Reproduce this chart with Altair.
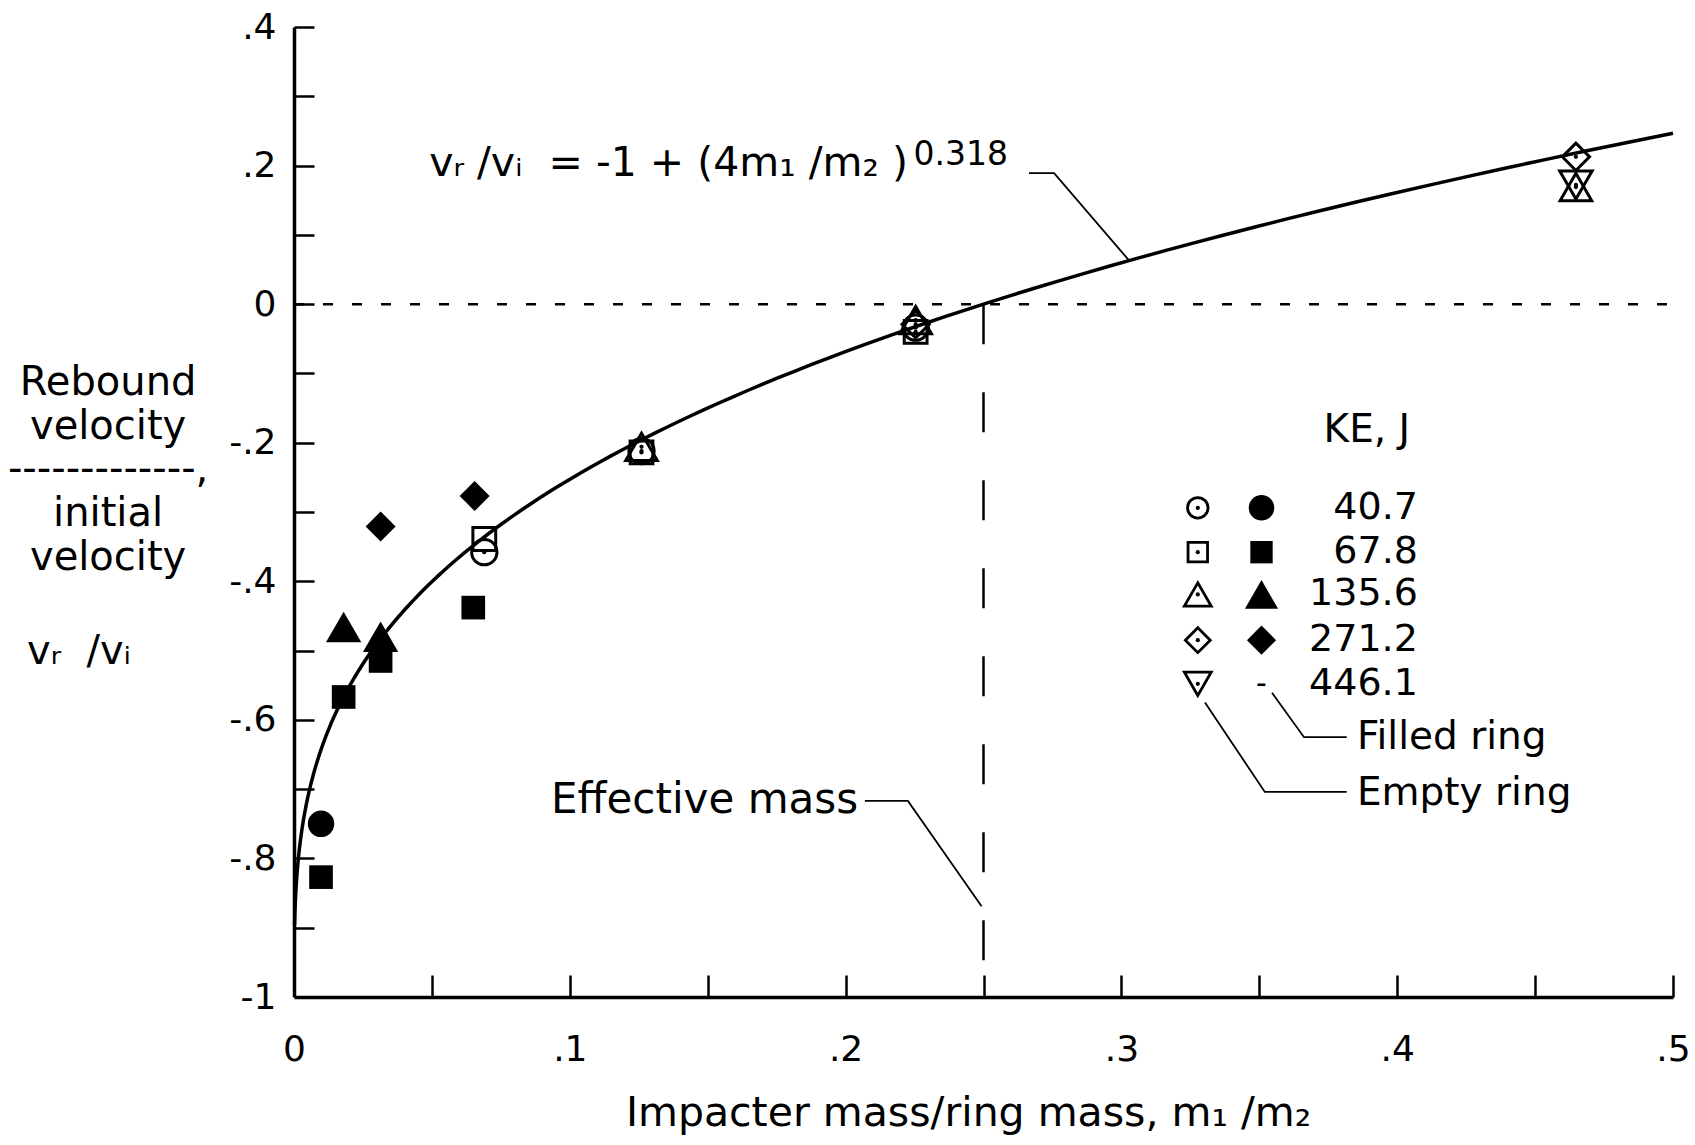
import altair as alt
import numpy as np
import pandas as pd

# ---------------- data ----------------
KE_LEVELS = [40.7, 67.8, 135.6, 271.2, 446.1]
KE_SHAPES = ["circle", "square", "triangle-up", "diamond", "triangle-down"]

# filled-ring impacts: mass ratio m1/m2, rebound ratio vr/vi, impact energy (J)
filled_ratio = [0.0098, 0.0098, 0.018, 0.018, 0.0314, 0.0314, 0.0314, 0.0655, 0.065]
filled_rebound = [-0.750, -0.827, -0.567, -0.466, -0.480, -0.515, -0.321, -0.277, -0.438]
filled_ke = [40.7, 67.8, 67.8, 135.6, 135.6, 67.8, 271.2, 271.2, 67.8]

# empty-ring impacts
empty_ratio = [0.069, 0.069, 0.126, 0.126, 0.126, 0.2254, 0.2254, 0.2254, 0.2254,
               0.4648, 0.4648, 0.4648]
empty_rebound = [-0.339, -0.358, -0.206, -0.212, -0.214, -0.023, -0.029, -0.034, -0.040,
                 0.2126, 0.169, 0.172]
empty_ke = [67.8, 40.7, 135.6, 40.7, 67.8, 135.6, 271.2, 40.7, 67.8, 271.2, 135.6, 446.1]

# fitted relation vr/vi = -1 + (4 m1/m2)^0.318
FIT_FACTOR = 4.0
FIT_EXPONENT = 0.318
EFFECTIVE_MASS_RATIO = 0.25

X_LABEL_VALUES = [0, 0.1, 0.2, 0.3, 0.4, 0.5]
X_TICK_VALUES = [0.05, 0.1, 0.15, 0.2, 0.25, 0.3, 0.35, 0.4, 0.45, 0.5]
Y_LABEL_VALUES = [-1, -0.8, -0.6, -0.4, -0.2, 0, 0.2, 0.4]
Y_TICK_VALUES = [-0.9, -0.8, -0.7, -0.6, -0.5, -0.4, -0.3, -0.2, -0.1, 0, 0.1, 0.2, 0.3, 0.4]

NB = "\u00a0"
EQUATION_TEXT = "v\u1d63 /v\u1d62 " + NB + "= -1 + (4m\u2081 /m\u2082 )"
EQUATION_POWER = "0.318"
X_TITLE = "Impacter mass/ring mass, m\u2081 /m\u2082"
Y_TITLE_LINES = ["Rebound", "velocity", "-------------,", "initial", "velocity"]
Y_TITLE_SYMBOL = "v\u1d63 " + NB + "/v\u1d62"

# ---------------- layout ----------------
W, H = 1379, 970
FONT = "DejaVu Sans"
INK = "black"

# left-hand title block placement (data units, outside the x domain)
Y_TITLE_X = -0.0674
Y_TITLE_ROW_Y = [-0.114, -0.178, -0.240, -0.303, -0.367]
Y_TITLE_SYMBOL_X = -0.0968
Y_TITLE_SYMBOL_Y = -0.502

# legend block placement (in data units)
LEG_ROW_Y = [-0.294, -0.358, -0.419, -0.485, -0.548]
LEG_OPEN_X = 0.3277
LEG_FILLED_X = 0.3508
LEG_LABEL_X = 0.4075

FILLED_SIZE = {"circle": 700, "square": 560, "triangle-up": 1250, "diamond": 900}
OPEN_SIZE = {"circle": 640, "square": 520, "triangle-up": 1000, "diamond": 740,
             "triangle-down": 1050}
LEG_OPEN_SIZE = {"circle": 420, "square": 380, "triangle-up": 720, "diamond": 620,
                 "triangle-down": 720}
LEG_FILLED_SIZE = {"circle": 650, "square": 500, "triangle-up": 1100, "diamond": 850}

xs = alt.Scale(domain=[0, 0.5], nice=False, zero=False)
ys = alt.Scale(domain=[-1, 0.4], nice=False, zero=False)


def xq(field):
    return alt.X(field, type="quantitative", scale=xs, axis=None)


def yq(field):
    return alt.Y(field, type="quantitative", scale=ys, axis=None)


LABEL_EXPR = "replace(replace(format(datum.value, '~g'), '\u2212', '-'), '0.', '.')"

# ---------------- tables ----------------
shape_of = dict(zip(KE_LEVELS, KE_SHAPES))
filled_df = pd.DataFrame({"m": filled_ratio, "v": filled_rebound, "ke": filled_ke})
filled_df["shape"] = filled_df["ke"].map(shape_of)
empty_df = pd.DataFrame({"m": empty_ratio, "v": empty_rebound, "ke": empty_ke})
empty_df["shape"] = empty_df["ke"].map(shape_of)
all_df = pd.concat([filled_df, empty_df], ignore_index=True)

m_curve = np.geomspace(0.0002, 0.5, 240)
curve_df = pd.DataFrame({"m": m_curve, "v": -1 + (FIT_FACTOR * m_curve) ** FIT_EXPONENT})

legend_df = pd.DataFrame({"ke": KE_LEVELS, "shape": KE_SHAPES, "y": LEG_ROW_Y})
legend_df["xo"] = LEG_OPEN_X
legend_df["xf"] = LEG_FILLED_X
legend_df["xl"] = LEG_LABEL_X
legend_df["label"] = [f"{k:.1f}" for k in KE_LEVELS]

ytitle_df = pd.DataFrame({"t": Y_TITLE_LINES, "y": Y_TITLE_ROW_Y})
ytitle_df["x"] = Y_TITLE_X

# ---------------- layers ----------------
curve = alt.Chart(curve_df).mark_line(color=INK, strokeWidth=3.5).encode(
    x=alt.X("m:Q", scale=xs, axis=alt.Axis(
        orient="bottom", values=X_LABEL_VALUES, labelExpr=LABEL_EXPR, tickSize=0,
        domainWidth=3.5, domainColor=INK, grid=False, labelFlush=False,
        labelFontSize=36, labelFont=FONT, labelColor=INK, labelPadding=35,
        labelOverlap=False, title=X_TITLE, titleFont=FONT, titleFontSize=41,
        titleFontWeight="normal", titleColor=INK, titlePadding=26,
        titleX=674, titleAlign="center")),
    y=alt.Y("v:Q", scale=ys, axis=alt.Axis(
        orient="left", values=Y_LABEL_VALUES, labelExpr=LABEL_EXPR, tickSize=0,
        domainWidth=3.5, domainColor=INK, grid=False, labelFlush=False,
        labelFontSize=36, labelFont=FONT, labelColor=INK, labelPadding=18,
        labelOverlap=False, title=None)),
)

# inward tick marks carried by an invisible copy of the points
frame = alt.Chart(all_df).mark_point(opacity=0).encode(
    x=alt.X("m:Q", scale=xs, axis=alt.Axis(
        orient="top", offset=-H, values=X_TICK_VALUES, labels=False, domain=False,
        tickSize=22, tickWidth=2.5, tickColor=INK, grid=False, title=None)),
    y=alt.Y("v:Q", scale=ys, axis=alt.Axis(
        orient="right", offset=-W, values=Y_TICK_VALUES, labels=False, domain=False,
        tickSize=20, tickWidth=2.5, tickColor=INK, grid=False, title=None)),
)

zero_line = alt.Chart(pd.DataFrame({"x0": [0.0], "x1": [0.5], "y": [0.0]})).mark_rule(
    color=INK, strokeWidth=2.5, strokeDash=[10, 19]
).encode(x=xq("x0"), x2="x1", y=yq("y"))

eff_line = alt.Chart(pd.DataFrame({"x": [EFFECTIVE_MASS_RATIO], "y0": [0.0], "y1": [-1.0]})).mark_rule(
    color=INK, strokeWidth=2.5, strokeDash=[40, 48]
).encode(x=xq("x"), y=yq("y0"), y2="y1")

layers = [zero_line, eff_line, curve, frame]

for shp in KE_SHAPES:
    if shp in FILLED_SIZE:
        layers.append(
            alt.Chart(filled_df).transform_filter(alt.datum.shape == shp)
            .mark_point(shape=shp, filled=True, color=INK, opacity=1, size=FILLED_SIZE[shp])
            .encode(x=xq("m"), y=yq("v"))
        )
        layers.append(
            alt.Chart(legend_df).transform_filter(alt.datum.shape == shp)
            .mark_point(shape=shp, filled=True, color=INK, opacity=1, size=LEG_FILLED_SIZE[shp])
            .encode(x=xq("xf"), y=yq("y"))
        )
    layers.append(
        alt.Chart(empty_df).transform_filter(alt.datum.shape == shp)
        .mark_point(shape=shp, filled=False, color=INK, opacity=1, strokeWidth=3,
                    size=OPEN_SIZE[shp])
        .encode(x=xq("m"), y=yq("v"))
    )
    layers.append(
        alt.Chart(legend_df).transform_filter(alt.datum.shape == shp)
        .mark_point(shape=shp, filled=False, color=INK, opacity=1, strokeWidth=2.8,
                    size=LEG_OPEN_SIZE[shp])
        .encode(x=xq("xo"), y=yq("y"))
    )

# centre dots of the open symbols
layers.append(alt.Chart(empty_df).mark_circle(color=INK, opacity=1, size=18)
              .encode(x=xq("m"), y=yq("v")))
layers.append(alt.Chart(legend_df).mark_circle(color=INK, opacity=1, size=18)
              .encode(x=xq("xo"), y=yq("y")))

# no filled-ring run at the highest energy
layers.append(
    alt.Chart(legend_df).transform_filter(alt.datum.shape == "triangle-down")
    .mark_text(text="-", font=FONT, fontSize=30, color=INK, baseline="middle")
    .encode(x=xq("xf"), y=yq("y"))
)

# legend energy labels
layers.append(
    alt.Chart(legend_df).mark_text(font=FONT, fontSize=38, color=INK, align="right",
                                   baseline="middle")
    .encode(x=xq("xl"), y=yq("y"), text="label:N")
)

# vertical-axis caption, written as a stacked fraction beside the axis
layers.append(
    alt.Chart(ytitle_df).mark_text(font=FONT, fontSize=40, color=INK, align="center",
                                   baseline="middle")
    .encode(x=xq("x"), y=yq("y"), text="t:N")
)


# text annotations
def note(x, y, text, size=39, align="left"):
    return alt.Chart(pd.DataFrame({"x": [x], "y": [y], "t": [text]})).mark_text(
        font=FONT, fontSize=size, color=INK, align=align, baseline="middle"
    ).encode(x=xq("x"), y=yq("y"), text="t:N")


layers += [
    note(Y_TITLE_SYMBOL_X, Y_TITLE_SYMBOL_Y, Y_TITLE_SYMBOL, size=40),
    note(0.2226, 0.202, EQUATION_TEXT, size=41, align="right"),
    note(0.2246, 0.2156, EQUATION_POWER, size=33),
    note(0.0932, -0.716, "Effective mass", size=42),
    note(0.389, -0.182, "KE, J", align="center"),
    note(0.3854, -0.625, "Filled ring"),
    note(0.3854, -0.706, "Empty ring"),
]

# leader lines
leaders = pd.DataFrame({
    "seg": ["eq"] * 3 + ["eff"] * 3 + ["fill"] * 3 + ["empty"] * 3,
    "i": [0, 1, 2] * 4,
    "x": [0.2665, 0.2756, 0.303,
          0.207, 0.2226, 0.2493,
          0.3546, 0.3662, 0.3817,
          0.3303, 0.352, 0.3817],
    "y": [0.189, 0.189, 0.062,
          -0.717, -0.717, -0.869,
          -0.561, -0.625, -0.625,
          -0.575, -0.704, -0.704],
})
layers.append(
    alt.Chart(leaders).mark_line(color=INK, strokeWidth=1.8)
    .encode(x=xq("x"), y=yq("y"), detail="seg:N", order="i:Q")
)

chart = (
    alt.layer(*layers)
    .resolve_axis(x="independent", y="independent")
    .properties(
        width=W, height=H,
        autosize=alt.AutoSizeParams(type="none"),
        padding={"left": 294, "top": 27, "right": 22, "bottom": 148},
        background="white",
    )
    .configure_view(stroke=None)
)

chart.save("out.html", embed_options={"renderer": "svg", "actions": False})
